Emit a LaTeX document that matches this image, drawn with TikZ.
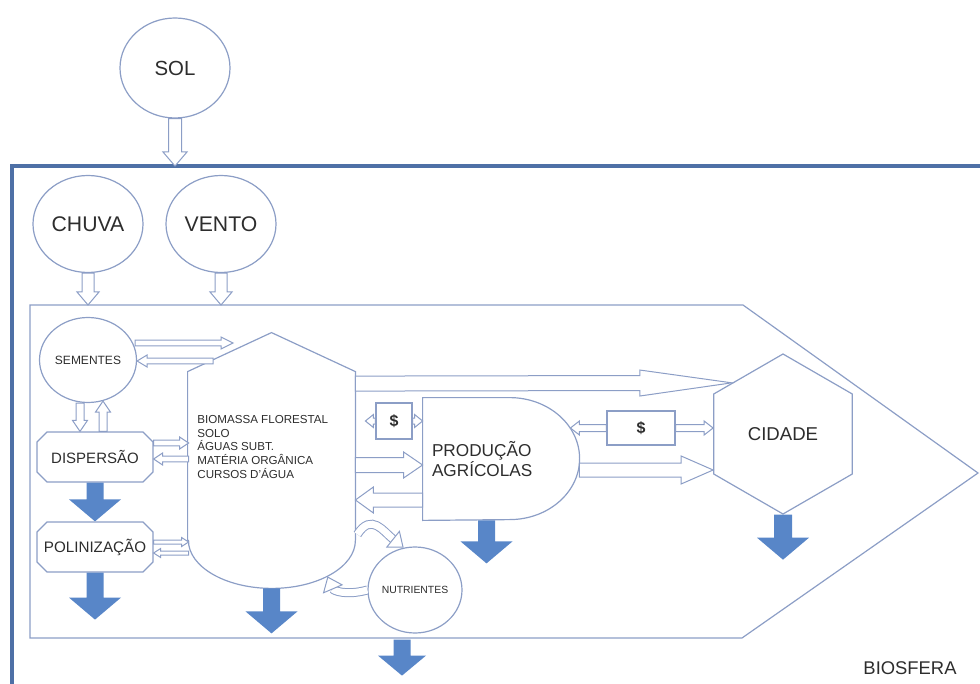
\documentclass[tikz,border=0pt]{standalone}
\usepackage{fontspec}
\setmainfont{Liberation Sans}
\usetikzlibrary{calc,arrows.meta,shapes.geometric,shapes.misc}

\definecolor{edge}{RGB}{140,158,198}
\definecolor{framec}{RGB}{78,112,166}
\definecolor{drainc}{RGB}{88,134,200}
\definecolor{ink}{RGB}{45,45,45}

\tikzset{
  bubble/.style={ellipse, draw=edge, line width=0.6pt, fill=white, text=ink, inner sep=0pt},
  plaque/.style={chamfered rectangle, chamfered rectangle xsep=2.5pt, chamfered rectangle ysep=2.5pt,
    draw=edge, line width=0.6pt, fill=white, text=ink, inner sep=0pt,
    minimum width=58pt, minimum height=25pt, font=\fontsize{7.5}{9}\selectfont},
  money/.style={rectangle, draw=edge, line width=0.6pt, fill=white, text=ink, inner sep=0pt,
    font=\fontsize{8}{9}\selectfont\bfseries},
  hull/.style={draw=edge, line width=0.6pt},
  flowline/.style={draw=edge, line width=0.5pt, fill=white, line join=miter},
  drain/.style={fill=drainc, draw=none},
  curl/.style={draw=edge, line width=0.5pt, double=white, double distance=3.5pt,
    -{Triangle[length=7pt, width=11pt, fill=white, line width=0.5pt]}},
}

% block arrow: [style]{from}{to}{shaft}{head width}{head length}, sizes in pt
\newcommand{\flow}[6][flowline]{%
  \path[#1] let \p1=#2, \p2=#3, \n1={atan2(\y2-\y1,\x2-\x1)}, \n2={veclen(\x2-\x1,\y2-\y1)} in
    [shift={(\p1)}, rotate=\n1]
    (0pt,{-#4/2*1pt}) -- ({(\n2-#6)*1pt},{-#4/2*1pt}) -- ({(\n2-#6)*1pt},{-#5/2*1pt})
    -- ({\n2*1pt},0pt) -- ({(\n2-#6)*1pt},{#5/2*1pt}) -- ({(\n2-#6)*1pt},{#4/2*1pt})
    -- (0pt,{#4/2*1pt}) -- cycle;}

\begin{document}
\begin{tikzpicture}[x=0.5pt, y=-0.5pt]
\useasboundingbox (0,0) rectangle (980,684);
\coordinate (frametop) at (0,166);
\coordinate (rim) at (0,305);
\draw[line width=1.6pt, draw=framec] (980,166) -- (12,166) -- (12,684);
\draw[hull] (30,305) -- (743,305) -- (978,473) -- (742,638) -- (30,638) -- cycle;

\node[bubble, minimum width=55pt, minimum height=50pt, font=\fontsize{10.2}{12}\selectfont] (sol) at (175,68) {SOL};
\node[bubble, minimum width=55pt, minimum height=48.5pt, font=\fontsize{10.6}{12}\selectfont] (chuva) at (88,224) {CHUVA};
\node[bubble, minimum width=55pt, minimum height=48.5pt, font=\fontsize{10.6}{12}\selectfont] (vento) at (221,224) {VENTO};
\node[bubble, minimum width=48.5pt, minimum height=42.5pt, font=\fontsize{6}{7}\selectfont] (sem) at (88,360) {SEMENTES};
\node[plaque] (disp) at (95,457) {DISPERSÃO};
\node[plaque, font=\fontsize{7.6}{9}\selectfont] (pol) at (95,547) {POLINIZAÇÃO};

\node[minimum width=83.5pt, minimum height=84pt, inner sep=0pt] (bio) at (271.5,456) {};
\draw[hull] (bio.south west) -- (bio.north west) -- ($(bio.north)+(0,-39)$) -- (bio.north east)
  -- (bio.south east) arc[start angle=0, end angle=-180, x radius=41.75pt, y radius=24pt] -- cycle;
\node[anchor=west, align=left, inner sep=0pt, text=ink, font=\fontsize{5.8}{6.8}\selectfont] (biolab) at (197,447)
  {BIOMASSA FLORESTAL\\SOLO\\ÁGUAS SUBT.\\MATÉRIA ORGÂNICA\\CURSOS D'ÁGUA};

\node[minimum width=78.5pt, minimum height=61pt, inner xsep=4.5pt, text width=69.5pt, align=left,
  text=ink, font=\fontsize{8.6}{10}\selectfont] (prod) at (501.5,459) {PRODUÇÃO\\AGRÍCOLAS};
\draw[hull] (prod.south west) -- (prod.north west) -- ($(prod.north west)+(87,0)$)
  arc[start angle=90, end angle=-90, x radius=35pt, y radius=30.5pt] -- cycle;

\node[regular polygon, regular polygon sides=6, shape border rotate=30, minimum size=80pt, inner sep=0pt,
  draw=edge, line width=0.6pt, fill=white, text=ink, font=\fontsize{9.3}{11}\selectfont] (cid) at (783,434) {CIDADE};
\node[bubble, minimum width=47pt, minimum height=43pt, font=\fontsize{5.2}{6}\selectfont] (nutr) at (415,590) {NUTRIENTES};
\node[money, minimum width=18pt, minimum height=18pt] (usd1) at (394,421) {\$};
\node[money, minimum width=34pt, minimum height=17pt] (usd2) at (641,428) {\$};
\node[text=ink, font=\fontsize{9.2}{11}\selectfont] (biosfera) at (910,668) {BIOSFERA};

\flow{(sol.south)}{(sol.south |- frametop)}{6.5}{12}{7}
\flow{(chuva.south)}{(chuva.south |- rim)}{6}{11}{6.5}
\flow{(vento.south)}{(vento.south |- rim)}{6}{11}{6.5}
\flow{($(sem.east)+(-2,-17)$)}{($(sem.east)+(96,-17)$)}{2.8}{6}{6}
\flow{($(sem.east)+(76,1)$)}{($(sem.east)+(0,1)$)}{2.8}{6}{5}
\flow{($(sem.south)+(-8,0)$)}{($(disp.north)+(-15,0)$)}{4}{7.5}{5.5}
\flow{($(disp.north)+(8,0)$)}{($(sem.south)+(15,-2)$)}{4}{7.5}{5.5}
\flow{($(disp.east)+(0,-14)$)}{($(disp.east)+(35,-14)$)}{2.8}{6}{4.5}
\flow{($(disp.east)+(35,2)$)}{($(disp.east)+(0,2)$)}{2.8}{6}{4.5}
\flow{($(pol.east)+(0,-5)$)}{($(pol.east)+(35,-5)$)}{2}{4.5}{3.5}
\flow{($(pol.east)+(35,6)$)}{($(pol.east)+(0,6)$)}{2}{4.5}{3.5}

\flow{($(bio.north east)+(0,12)$)}{(cid.north west)}{7.5}{13}{46}
\flow{($(bio.east)+(0,9)$)}{($(prod.west)+(0,6)$)}{7.5}{13}{9.5}
\flow{($(prod.west)+(0,41)$)}{($(bio.east)+(0,44)$)}{7}{13}{9}
\flow{(usd1.west)}{($(usd1.west)+(-10,0)$)}{3}{6.5}{4}
\flow{(usd1.east)}{(usd1.east -| prod.west)}{3}{6.5}{4}
\flow{(usd2.west)}{($(prod.east)+(-10,-31)$)}{3.5}{7}{4.5}
\flow{(usd2.east)}{(usd2.east -| cid.west)}{3.5}{7}{4.5}
\flow{($(prod.east)+(-1,11)$)}{($(cid.west)+(0,36)$)}{7}{14}{16}

\draw[curl] ($(bio.south east)+(2,-6)$) .. controls +(14,-22) and +(-20,-16) .. (nutr.105);
\draw[curl] (nutr.west) .. controls +(-22,6) and +(6,14) .. ($(bio.south)+(56,36)$);

\flow[drain]{(disp.south)}{(disp.south |- pol.north)}{8.5}{26}{11}
\flow[drain]{(pol.south)}{($(pol.south)+(0,47)$)}{8.5}{26}{11}
\flow[drain]{($(bio.south)+(0,48)$)}{($(bio.south)+(0,93)$)}{8.5}{26}{11}
\flow[drain]{($(prod.south)+(-15,0)$)}{($(prod.south)+(-15,43)$)}{8.5}{26}{11}
\flow[drain]{($(nutr.south)+(-13,6)$)}{($(nutr.south)+(-13,42)$)}{8.5}{24}{10}
\flow[drain]{(cid.south)}{($(cid.south)+(0,45)$)}{9}{26}{11}
\end{tikzpicture}
\end{document}
